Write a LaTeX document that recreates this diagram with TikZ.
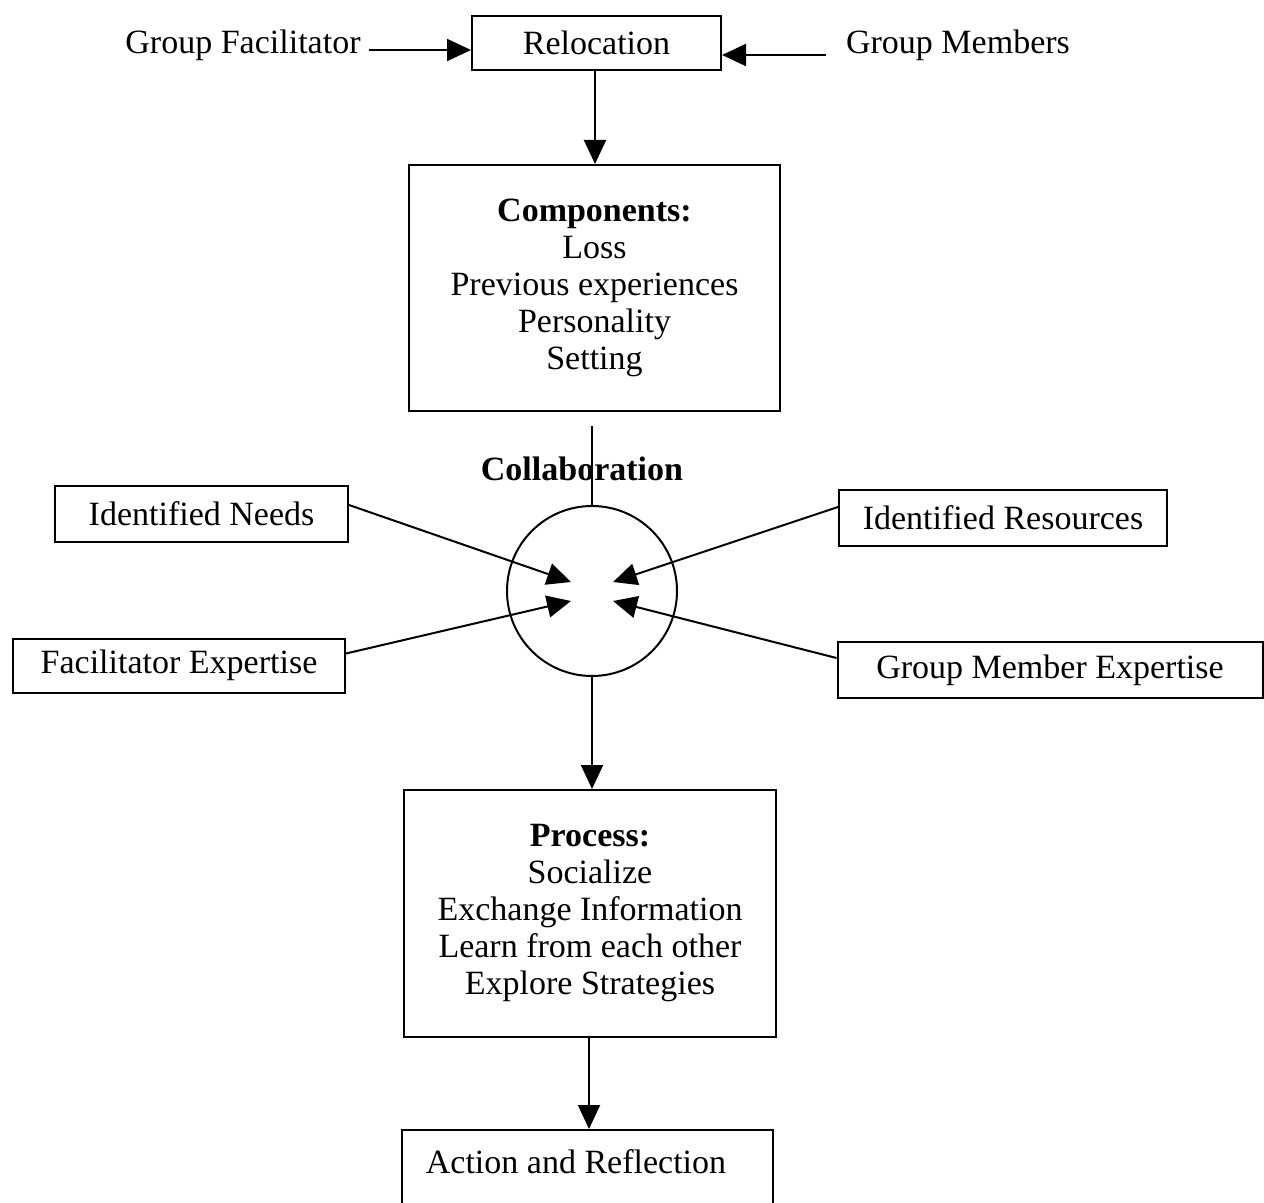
\documentclass[tikz,border=0pt]{standalone}
\usepackage{fontspec}
\setmainfont{Liberation Serif}
\usetikzlibrary{arrows.meta}
\begin{document}
\begin{tikzpicture}[x=0.5pt,y=-0.5pt,
  every node/.style={font=\fontsize{17}{18.5}\selectfont, inner sep=0pt},
  box/.style={draw, line width=1pt, rectangle, align=center},
  lbl/.style={align=center},
  arr/.style={line width=1pt, -{Triangle[length=12pt,width=11pt]}},
  conn/.style={line width=1pt}]
\useasboundingbox (0,0) rectangle (1264,1203);
\clip (0,0) rectangle (1264,1203);

\node[lbl] (gf) at (243,45) {Group Facilitator};
\node[box, minimum width=124.5pt, minimum height=27pt] (reloc) at (596.5,43) {Relocation};
\node[lbl] (gm) at (958,45) {Group Members};

\node[box, minimum width=185.5pt, minimum height=123pt] (comp) at (594.5,288)
  {\textbf{Components:}\\Loss\\Previous experiences\\Personality\\Setting};

\node[lbl] (collab) at (582,469) {\textbf{Collaboration}};
\node[draw, line width=1pt, circle, minimum size=85pt] (circ) at (592,591) {};

\node[box, minimum width=146.5pt, minimum height=28pt] (needs) at (201.5,514) {Identified Needs};
\node[box, minimum width=164pt, minimum height=28pt] (res) at (1003,518) {Identified Resources};
\node[box, minimum width=166pt, minimum height=27pt] (fac) at (179,665.5) {Facilitator Expertise};
\node[box, minimum width=212.5pt, minimum height=28pt] (gme) at (1050,670) {Group Member Expertise};

\node[box, minimum width=186pt, minimum height=123.5pt] (proc) at (590,913.5)
  {\textbf{Process:}\\Socialize\\Exchange Information\\Learn from each other\\Explore Strategies};

\node[box, minimum width=185.5pt, minimum height=50pt] (act) at (587.5,1180) {};
\node[lbl] (acttxt) at (576,1162) {Action and Reflection};

\coordinate (tneeds) at (571,582);
\coordinate (tres) at (613,582);
\coordinate (tfac) at (571,601);
\coordinate (tgm) at (613,601);

\draw[arr] ([xshift=4pt,yshift=-2.5pt]gf.east) -- ([yshift=-3.5pt]reloc.west);
\draw[arr] ([xshift=-10pt,yshift=-5pt]gm.west) -- ([yshift=-6pt]reloc.east);
\draw[arr] ([xshift=-0.75pt]reloc.south) -- ([xshift=-0.75pt]reloc.south |- comp.north);
\draw[conn] ([yshift=-7pt]circ.north |- comp.south) -- (circ.north);
\draw[arr] ([yshift=4.5pt]needs.east) -- (tneeds);
\draw[arr] ([yshift=5.5pt]res.west) -- (tres);
\draw[arr] ([yshift=6pt]fac.east) -- (tfac);
\draw[arr] ([yshift=6pt]gme.west) -- (tgm);
\draw[arr] (circ.south) -- (circ.south |- proc.north);
\draw[arr] ([xshift=-0.5pt]proc.south) -- ([xshift=-0.5pt]proc.south |- act.north);
\end{tikzpicture}
\end{document}
